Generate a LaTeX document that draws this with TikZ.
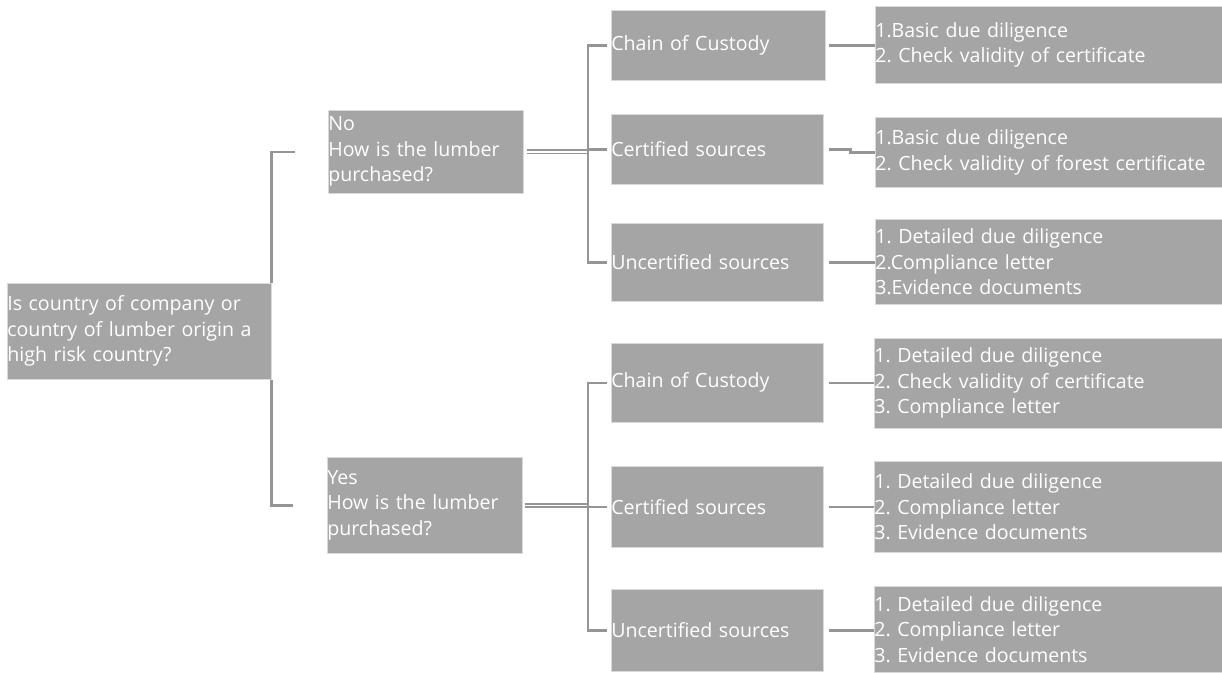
\documentclass[tikz,border=0pt]{standalone}
\usepackage{fontspec}
\setmainfont{Open Sans}
\usepackage{tikz}
\definecolor{boxgray}{HTML}{A5A5A5}
\definecolor{linegray}{HTML}{959595}
\frenchspacing

\begin{document}
\begin{tikzpicture}[
  x=1pt, y=-1pt,
  font=\fontsize{19.6}{25.5}\selectfont,
  box/.style={fill=boxgray, draw=gray!30, line width=0.6pt, text=white, anchor=north west, align=left, inner sep=0pt},
  link/.style={draw=linegray, line width=2.4pt},
  twin/.style={draw=linegray, line width=1.6pt, double=white, double distance=1.6pt}
]
  \useasboundingbox (0,0) rectangle (1222,672);

  % Question
  \node[box, minimum width=264, text width=264, minimum height=96] (q) at (7,283) {Is country of company or\\country of lumber origin a\\high risk country?};

  % Answers
  \node[box, minimum width=195, text width=195, minimum height=83] (no) at (328,110) {No\\How is the lumber\\purchased?};
  \node[box, minimum width=195, text width=195, minimum height=96] (yes) at (327,457) {Yes\\How is the lumber\\purchased?};

  % How purchased (no)
  \node[box, minimum width=214, text width=214, minimum height=70] (nchain) at (611,10) {Chain of Custody};
  \node[box, minimum width=212, text width=212, minimum height=70] (ncert) at (611,114) {Certified sources};
  \node[box, minimum width=212, text width=212, minimum height=78] (nunc) at (611,223) {Uncertified sources};

  % How purchased (yes)
  \node[box, minimum width=212, text width=212, minimum height=79] (ychain) at (611,343) {Chain of Custody};
  \node[box, minimum width=212, text width=212, minimum height=81] (ycert) at (611,466) {Certified sources};
  \node[box, minimum width=212, text width=212, minimum height=82] (yunc) at (611,589) {Uncertified sources};

  % Requirements (no)
  \node[box, minimum width=347, text width=347, minimum height=77] (nreq1) at (875,6) {1.Basic due diligence\\2. Check validity of certificate};
  \node[box, minimum width=347, text width=347, minimum height=70] (nreq2) at (875,117) {1.Basic due diligence\\2. Check validity of forest certificate};
  \node[box, minimum width=347, text width=347, minimum height=85] (nreq3) at (875,219) {1. Detailed due diligence\\2.Compliance letter\\3.Evidence documents};

  % Requirements (yes)
  \node[box, minimum width=348, text width=348, minimum height=90] (yreq1) at (874,338) {1. Detailed due diligence\\2. Check validity of certificate\\3. Compliance letter};
  \node[box, minimum width=348, text width=348, minimum height=91] (yreq2) at (874,461) {1. Detailed due diligence\\2. Compliance letter\\3. Evidence documents};
  \node[box, minimum width=348, text width=348, minimum height=86] (yreq3) at (874,586) {1. Detailed due diligence\\2. Compliance letter\\3. Evidence documents};

  % Forks
  \coordinate (nfork) at (588,153);
  \coordinate (yfork) at (588,504);

  % Arrows
  \draw[link] ([xshift=-33pt]no.west) -| (q.north east);
  \draw[link] ([xshift=-34pt]yes.west) -| (q.south east);

  \draw[twin] ([xshift=3pt]no.east) -- (nfork |- no.east);
  \draw[link] ([xshift=-4pt]nchain.west) -| (nfork) |- ([xshift=-4pt]nunc.west);
  \draw[link] (nfork |- ncert.west) -- ([xshift=-4pt]ncert.west);

  \draw[twin] ([xshift=2pt]yes.east) -- (yfork |- yes.east);
  \draw[link] ([xshift=-4pt]ychain.west) -| (yfork) |- ([xshift=-4pt]yunc.west);
  \draw[link] (yfork |- ycert.west) -- ([xshift=-4pt]ycert.west);

  \draw[link] ([xshift=3pt]nchain.east) -- (nreq1.west |- nchain.east);
  \draw[link] ([xshift=5pt]ncert.east) -- ++(22,0) |- (nreq2.west);
  \draw[link] ([xshift=5pt]nunc.east) -- (nreq3.west |- nunc.east);
  \draw[link] ([xshift=5pt]ychain.east) -- (yreq1.west |- ychain.east);
  \draw[link] ([xshift=5pt]ycert.east) -- (yreq2.west |- ycert.east);
  \draw[link] ([xshift=5pt]yunc.east) -- (yreq3.west |- yunc.east);
\end{tikzpicture}
\end{document}
